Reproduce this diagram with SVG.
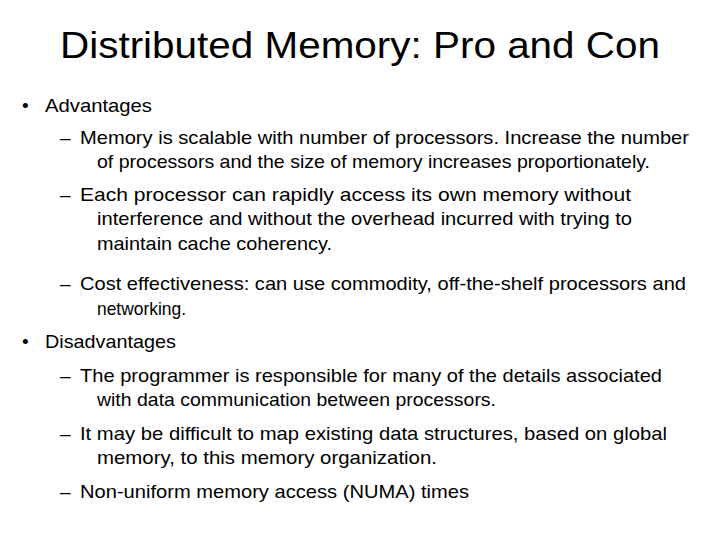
<svg xmlns="http://www.w3.org/2000/svg" width="720" height="540" viewBox="0 0 720 540">
<style>
text{font-family:"Liberation Sans","Open Sans",sans-serif;fill:#000}
.t{font-size:36px}
.b{font-size:19px}
</style>
<rect width="720" height="540" fill="#fff"/>
<text class="t" x="60" y="58" textLength="600" lengthAdjust="spacingAndGlyphs">Distributed Memory: Pro and Con</text>
<g class="b">
<text class="b" x="22" y="112">•</text>
<text class="b" x="45" y="112" textLength="107" lengthAdjust="spacingAndGlyphs">Advantages</text>
<text class="b" x="60" y="144">–</text>
<text class="b" x="80" y="144" textLength="609" lengthAdjust="spacingAndGlyphs">Memory is scalable with number of processors. Increase the number</text>
<text class="b" x="97" y="168" textLength="553" lengthAdjust="spacingAndGlyphs">of processors and the size of memory increases proportionately.</text>
<text class="b" x="60" y="201">–</text>
<text class="b" x="80" y="201" textLength="551" lengthAdjust="spacingAndGlyphs">Each processor can rapidly access its own memory without</text>
<text class="b" x="97" y="225" textLength="535" lengthAdjust="spacingAndGlyphs">interference and without the overhead incurred with trying to</text>
<text class="b" x="97" y="250" textLength="235" lengthAdjust="spacingAndGlyphs">maintain cache coherency.</text>
<text class="b" x="60" y="290">–</text>
<text class="b" x="80" y="290" textLength="606" lengthAdjust="spacingAndGlyphs">Cost effectiveness: can use commodity, off-the-shelf processors and</text>
<text class="b" x="97" y="315" textLength="89" lengthAdjust="spacingAndGlyphs">networking.</text>
<text class="b" x="22" y="348">•</text>
<text class="b" x="45" y="348" textLength="131" lengthAdjust="spacingAndGlyphs">Disadvantages</text>
<text class="b" x="60" y="382">–</text>
<text class="b" x="80" y="382" textLength="582" lengthAdjust="spacingAndGlyphs">The programmer is responsible for many of the details associated</text>
<text class="b" x="97" y="406" textLength="399" lengthAdjust="spacingAndGlyphs">with data communication between processors.</text>
<text class="b" x="60" y="440">–</text>
<text class="b" x="80" y="440" textLength="587" lengthAdjust="spacingAndGlyphs">It may be difficult to map existing data structures, based on global</text>
<text class="b" x="97" y="464" textLength="340" lengthAdjust="spacingAndGlyphs">memory, to this memory organization.</text>
<text class="b" x="60" y="498">–</text>
<text class="b" x="80" y="498" textLength="389" lengthAdjust="spacingAndGlyphs">Non-uniform memory access (NUMA) times</text>
</g>
</svg>
